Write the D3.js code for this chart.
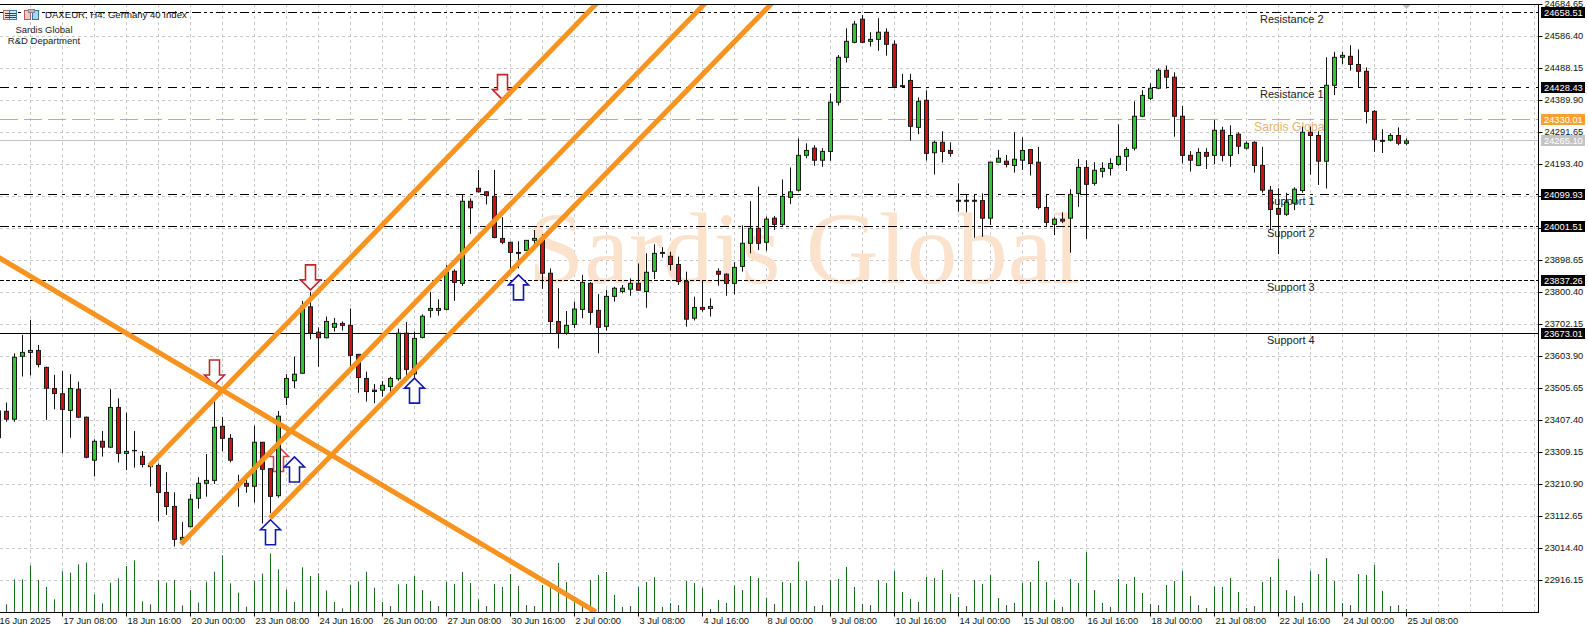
<!DOCTYPE html>
<html>
<head>
<meta charset="utf-8">
<title>DAXEUR H4</title>
<script src="https://cdn.jsdelivr.net/npm/d3@7"></script>
<style>
  html, body { margin: 0; padding: 0; background: #fff; overflow: hidden; }
  svg { display: block; }
  text { font-family: "Liberation Sans", sans-serif; }
  .axis text { font-size: 9.3px; fill: #111; }
  .axis path { display: none; }
  .level-label { font-size: 11px; fill: #222; }
</style>
</head>
<body>
<svg id="chart"></svg>
<script>
const width = 1588;
const height = 632;
const plotRight = 1538;
const plotTop = 4;
const plotBottom = 612;

const barOpen = [
  23354, 23435, 23411, 23604, 23616, 23622, 23570, 23505, 23489, 23438,
  23503, 23417, 23285, 23343, 23325, 23447, 23306, 23315, 23297, 23269,
  23269, 23186, 23143, 23040, 23081, 23168, 23214, 23223, 23389, 23352,
  23213, 23214, 23205, 23340, 23259, 23176, 23478, 23529, 23552, 23756,
  23678, 23661, 23693, 23705, 23699, 23610, 23536, 23500, 23500, 23511,
  23535, 23675, 23550, 23662, 23745, 23745, 23748, 23865, 23828, 24080,
  24120, 24109, 24095, 23966, 23954, 23923, 23929, 23960, 23961, 23859,
  23711, 23675, 23702, 23748, 23828, 23745, 23696, 23788, 23803, 23810,
  23828, 23803, 23865, 23923, 23911, 23886, 23834, 23721, 23754, 23751,
  23865, 23856, 23828, 23880, 23951, 23997, 23954, 24028, 24009, 24092,
  24114, 24221, 24243, 24206, 24233, 24384, 24522, 24568, 24639, 24571,
  24577, 24599, 24562, 24435, 24451, 24307, 24390, 24229, 24261, 24236,
  24083, 24083, 24083, 24082, 24028, 24200, 24203, 24190, 24206, 24239,
  24200, 24061, 24009, 24025, 24028, 24104, 24184, 24135, 24172, 24181,
  24193, 24218, 24243, 24341, 24396, 24427, 24482, 24461, 24341, 24221,
  24190, 24230, 24221, 24298, 24221, 24286, 24243, 24261, 24190, 24114,
  24058, 24040, 24074, 24113, 24292, 24282, 24203, 24436, 24522, 24525,
  24500, 24479, 24356, 24267, 24268, 24282, 24258
];
const barHigh = [
  23440, 23462, 23613, 23670, 23716, 23639, 23572, 23547, 23559, 23549,
  23526, 23419, 23349, 23375, 23503, 23475, 23431, 23375, 23313, 23270,
  23275, 23248, 23186, 23095, 23181, 23233, 23304, 23465, 23417, 23365,
  23240, 23229, 23391, 23341, 23260, 23436, 23549, 23603, 23774, 23802,
  23693, 23726, 23722, 23711, 23751, 23611, 23557, 23519, 23528, 23541,
  23689, 23709, 23680, 23733, 23802, 23779, 23884, 23871, 24101, 24089,
  24176, 24111, 24176, 24031, 23956, 23957, 23961, 23992, 23979, 23874,
  23813, 23743, 23772, 23854, 23832, 23795, 23808, 23818, 23823, 23843,
  23889, 23920, 23948, 23939, 23925, 23910, 23864, 23787, 23838, 23782,
  23874, 23859, 23893, 24006, 24080, 24125, 24033, 24035, 24147, 24184,
  24273, 24258, 24252, 24243, 24411, 24529, 24611, 24634, 24652, 24599,
  24642, 24611, 24574, 24471, 24471, 24399, 24420, 24266, 24295, 24261,
  24135, 24101, 24101, 24104, 24201, 24238, 24222, 24292, 24276, 24240,
  24247, 24101, 24031, 24046, 24117, 24210, 24206, 24200, 24200, 24212,
  24316, 24246, 24387, 24421, 24442, 24488, 24497, 24476, 24373, 24234,
  24243, 24243, 24329, 24309, 24313, 24292, 24264, 24264, 24247, 24127,
  24120, 24106, 24123, 24309, 24309, 24295, 24522, 24539, 24539, 24559,
  24546, 24491, 24360, 24301, 24289, 24307, 24273
];
const barLow = [
  23350, 23403, 23403, 23542, 23545, 23570, 23409, 23441, 23306, 23354,
  23414, 23291, 23235, 23296, 23322, 23278, 23255, 23262, 23263, 23204,
  23098, 23117, 23020, 23030, 23079, 23136, 23173, 23212, 23312, 23278,
  23142, 23185, 23155, 23091, 23122, 23170, 23454, 23506, 23550, 23656,
  23572, 23659, 23680, 23683, 23572, 23492, 23465, 23460, 23480, 23492,
  23529, 23544, 23536, 23659, 23723, 23729, 23746, 23774, 23820, 23980,
  24107, 24070, 23966, 23948, 23869, 23874, 23928, 23941, 23811, 23675,
  23628, 23670, 23691, 23721, 23701, 23613, 23683, 23772, 23797, 23790,
  23805, 23753, 23841, 23907, 23867, 23823, 23695, 23714, 23741, 23726,
  23821, 23790, 23794, 23864, 23920, 23930, 23928, 23992, 24002, 24071,
  24110, 24212, 24189, 24186, 24204, 24374, 24506, 24565, 24565, 24555,
  24542, 24527, 24432, 24429, 24266, 24286, 24205, 24162, 24199, 24217,
  24048, 24046, 23968, 23971, 24007, 24199, 24184, 24168, 24176, 24159,
  24055, 24004, 23976, 24013, 23922, 24063, 23964, 24128, 24153, 24159,
  24189, 24173, 24236, 24338, 24391, 24424, 24426, 24278, 24196, 24171,
  24188, 24179, 24194, 24202, 24186, 24225, 24239, 24168, 24106, 23992,
  23918, 24035, 24053, 24106, 24162, 24130, 24119, 24406, 24501, 24481,
  24430, 24319, 24232, 24228, 24264, 24252, 24252
];
const barClose = [
  23436, 23411, 23601, 23616, 23622, 23579, 23506, 23490, 23441, 23505,
  23417, 23294, 23343, 23325, 23447, 23306, 23312, 23314, 23272, 23265,
  23186, 23143, 23042, 23048, 23165, 23214, 23223, 23386, 23352, 23285,
  23210, 23205, 23340, 23257, 23174, 23420, 23536, 23549, 23758, 23675,
  23661, 23711, 23705, 23699, 23607, 23539, 23496, 23496, 23515, 23536,
  23675, 23564, 23659, 23727, 23751, 23751, 23863, 23831, 24080, 24060,
  24109, 24098, 23969, 23954, 23923, 23920, 23960, 23966, 23859, 23711,
  23675, 23699, 23749, 23831, 23739, 23693, 23788, 23813, 23813, 23828,
  23807, 23862, 23920, 23920, 23886, 23834, 23718, 23754, 23748, 23757,
  23856, 23828, 23877, 23951, 23997, 23951, 24025, 24009, 24095, 24109,
  24221, 24236, 24206, 24233, 24384, 24522, 24571, 24624, 24568, 24577,
  24599, 24562, 24433, 24432, 24310, 24387, 24227, 24261, 24233, 24227,
  24080, 24080, 24080, 24028, 24200, 24212, 24193, 24209, 24236, 24196,
  24061, 24015, 24025, 24019, 24101, 24184, 24132, 24175, 24181, 24196,
  24218, 24239, 24341, 24405, 24427, 24482, 24461, 24341, 24221, 24206,
  24230, 24218, 24298, 24221, 24282, 24249, 24258, 24190, 24114, 24055,
  24040, 24077, 24117, 24292, 24282, 24203, 24436, 24522, 24528, 24500,
  24479, 24356, 24270, 24264, 24282, 24258, 24265
];
const barVolume = [
  60, 23, 98, 98, 140, 96, 75, 38, 122, 118,
  143, 148, 53, 26, 88, 101, 138, 155, 32, 23,
  96, 88, 96, 20, 66, 28, 91, 121, 170, 86,
  58, 16, 93, 115, 175, 128, 68, 30, 134, 108,
  116, 65, 30, 11, 82, 92, 121, 73, 30, 18,
  83, 84, 108, 66, 33, 18, 91, 84, 120, 87,
  38, 18, 84, 75, 114, 78, 21, 18, 81, 90,
  147, 90, 30, 20, 96, 111, 120, 51, 15, 18,
  76, 90, 104, 15, 27, 21, 93, 87, 72, 9,
  36, 27, 80, 66, 108, 102, 43, 24, 90, 87,
  151, 93, 18, 21, 96, 99, 135, 75, 24, 21,
  96, 87, 123, 60, 39, 30, 105, 102, 126, 54,
  45, 18, 96, 84, 111, 42, 21, 27, 87, 90,
  153, 90, 36, 15, 99, 87, 180, 66, 27, 15,
  99, 84, 105, 57, 24, 21, 81, 93, 123, 48,
  21, 12, 77, 75, 102, 60, 12, 18, 90, 105,
  159, 66, 48, 27, 123, 114, 162, 93, 27, 21,
  114, 111, 141, 63, 18, 21, 9
];

const timeLabels = [
  "16 Jun 2025", "17 Jun 08:00", "18 Jun 16:00", "20 Jun 00:00", "23 Jun 08:00", "24 Jun 16:00",
  "26 Jun 00:00", "27 Jun 08:00", "30 Jun 16:00", "2 Jul 00:00", "3 Jul 08:00", "4 Jul 16:00",
  "8 Jul 00:00", "9 Jul 08:00", "10 Jul 16:00", "14 Jul 00:00", "15 Jul 08:00", "16 Jul 16:00",
  "18 Jul 00:00", "21 Jul 08:00", "22 Jul 16:00", "24 Jul 00:00", "25 Jul 08:00"
];
const priceTicks = [
  24684.65, 24586.40, 24488.15, 24389.90, 24291.65, 24193.40, 24095.15, 23996.90, 23898.65,
  23800.40, 23702.15, 23603.90, 23505.65, 23407.40, 23309.15, 23210.90, 23112.65, 23014.40, 22916.15
];
// these two sit under the level badges in the original
const hiddenTickLabels = [24095.15, 23996.90];

const levelNames = ["Resistance 2", "Resistance 1", "Sardis Global", "Support 1", "Support 2", "Support 3", "Support 4"];
const levelPrices = [24658.51, 24428.43, 24330.01, 24099.93, 24001.51, 23837.26, 23673.01];
const lastPrice = 24265.10;

// trend lines as [bar, price] pairs
const trendUpper = [[18.87, 23268], [75.2, 24698]];
const trendMiddle = [[22.83, 23027], [88.75, 24698]];
const trendLower = [[33.96, 23107], [97.1, 24698]];
const trendDown = [[-0.4, 23914], [74.7, 22819]];

const downArrowBars = [27, 39, 63];
const downArrowPrices = [23516, 23808, 24392];
const redUpArrowBars = [35];
const redUpArrowPrices = [23327];
const blueUpArrowBars = [34, 37, 52, 65];
const blueUpArrowPrices = [23102, 23295, 23537, 23854];

const bars = barOpen.map((o, i) => ({
  i, open: o, high: barHigh[i], low: barLow[i], close: barClose[i], volume: barVolume[i]
}));

const xScale = d3.scaleLinear().domain([0, 176]).range([-1.67, 1406.33]);
const yScale = d3.scaleLinear().domain([24684.65, 22916.15]).range([4.33, 580.33]);
const volScale = d3.scaleLinear().domain([0, 180]).range([plotBottom, plotBottom - 60]);
const snap = v => Math.floor(v) + 0.5;

const svg = d3.select("#chart").attr("width", width).attr("height", height);

svg.append("defs").append("clipPath").attr("id", "plot")
  .append("rect").attr("x", 0).attr("y", plotTop).attr("width", plotRight).attr("height", plotBottom - plotTop);

const plot = svg.append("g").attr("clip-path", "url(#plot)");

// grid
const gridBars = d3.range(0, 193, 4);
plot.append("g").selectAll("line").data(gridBars).enter().append("line")
  .attr("x1", d => snap(xScale(d))).attr("x2", d => snap(xScale(d)))
  .attr("y1", plotTop).attr("y2", plotBottom)
  .attr("stroke", "#c8c8c8").attr("stroke-dasharray", "3,3");
plot.append("g").selectAll("line").data(priceTicks).enter().append("line")
  .attr("x1", 0).attr("x2", plotRight)
  .attr("y1", d => snap(yScale(d))).attr("y2", d => snap(yScale(d)))
  .attr("stroke", "#c8c8c8").attr("stroke-dasharray", "3,3");

// watermark
plot.append("text")
  .attr("x", 528).attr("y", 283)
  .style("font-family", '"Liberation Serif", serif')
  .style("font-size", "101px")
  .attr("fill", "#fbe2cd")
  .text("Sardis Global");

// levels
const levelDash = ["9,3,3,3,3,3", "9,5,3,7", "18,6", "9,5,3,7", "9,3,3,3,3,3", "4,2", null];
const levelColor = ["#000", "#000", "#e2a74e", "#000", "#000", "#000", "#000"];
plot.append("line")
  .attr("x1", 0).attr("x2", plotRight)
  .attr("y1", snap(yScale(lastPrice))).attr("y2", snap(yScale(lastPrice)))
  .attr("stroke", "#c0c0c0");
plot.append("g").selectAll("line").data(levelPrices).enter().append("line")
  .attr("x1", 0).attr("x2", plotRight)
  .attr("y1", d => snap(yScale(d))).attr("y2", d => snap(yScale(d)))
  .attr("stroke", (d, i) => levelColor[i])
  .attr("stroke-dasharray", (d, i) => levelDash[i]);

// level names, offset below each line
const labelX = [1260, 1260, 1254, 1267, 1267, 1267, 1267];
plot.append("g").selectAll("text").data(levelNames).enter().append("text")
  .attr("class", "level-label")
  .attr("x", (d, i) => labelX[i])
  .attr("y", (d, i) => yScale(levelPrices[i]) + 6.4)
  .attr("dy", "0.35em")
  .style("font-size", d => (d === "Sardis Global" ? "12.2px" : null))
  .style("fill", d => (d === "Sardis Global" ? "#e9b26f" : null))
  .text(d => d);

// block arrows, tip at the given bar and price
const arrowDown = "M0,0 L-10,-10 L-5,-10 L-5,-25 L5,-25 L5,-10 L10,-10 Z";
const arrowUp = "M0,0 L-10,10 L-5,10 L-5,25 L5,25 L5,10 L10,10 Z";
function drawArrows(barsIn, prices, path, color) {
  plot.append("g").selectAll("path").data(barsIn).enter().append("path")
    .attr("d", path)
    .attr("transform", (d, i) => `translate(${snap(xScale(d))},${yScale(prices[i])})`)
    .attr("fill", "#fff")
    .attr("stroke", color)
    .attr("stroke-width", 1.6);
}
drawArrows(downArrowBars, downArrowPrices, arrowDown, "#c8202f");
drawArrows(redUpArrowBars, redUpArrowPrices, arrowUp, "#d8404a");
drawArrows(blueUpArrowBars, blueUpArrowPrices, arrowUp, "#1616b0");

// volumes
plot.append("g").selectAll("line").data(bars).enter().append("line")
  .attr("x1", d => snap(xScale(d.i))).attr("x2", d => snap(xScale(d.i)))
  .attr("y1", plotBottom).attr("y2", d => volScale(d.volume))
  .attr("stroke", "#1d6a1d");

// candles
const candles = plot.append("g").selectAll("g").data(bars).enter().append("g");
candles.append("line")
  .attr("x1", d => snap(xScale(d.i))).attr("x2", d => snap(xScale(d.i)))
  .attr("y1", d => yScale(d.high)).attr("y2", d => yScale(d.low))
  .attr("stroke", "#111");
candles.append("rect")
  .attr("x", d => snap(xScale(d.i)) - 2)
  .attr("width", 4)
  .attr("y", d => yScale(Math.max(d.open, d.close)))
  .attr("height", d => Math.abs(yScale(d.open) - yScale(d.close)))
  .attr("fill", d => (d.close >= d.open ? "#27cc27" : "#c8121a"))
  .attr("stroke", "#1a1a1a");

// trend lines on top of everything
const trendLine = d3.line().x(d => xScale(d[0])).y(d => yScale(d[1]));
plot.append("g").selectAll("path").data([trendUpper, trendMiddle, trendLower, trendDown]).enter().append("path")
  .attr("d", trendLine)
  .attr("fill", "none")
  .attr("stroke", "#f7931e")
  .attr("stroke-width", 5);

// frame
svg.append("line").attr("x1", 0).attr("x2", plotRight).attr("y1", plotTop + 0.5).attr("y2", plotTop + 0.5).attr("stroke", "#000");
svg.append("line").attr("x1", 0).attr("x2", plotRight).attr("y1", plotBottom + 0.5).attr("y2", plotBottom + 0.5).attr("stroke", "#000");
svg.append("line").attr("x1", plotRight + 0.5).attr("x2", plotRight + 0.5).attr("y1", plotTop).attr("y2", plotBottom + 1).attr("stroke", "#000");

// time axis
const xAxis = d3.axisBottom(xScale)
  .tickValues(timeLabels.map((d, i) => i * 8))
  .tickFormat((d, i) => timeLabels[i])
  .tickSizeOuter(0)
  .tickSize(4)
  .tickPadding(1);
const xG = svg.append("g").attr("class", "axis").attr("transform", `translate(0,${plotBottom + 0.5})`).call(xAxis);
xG.selectAll(".tick").attr("transform", d => `translate(${snap(xScale(d))},0)`);
xG.selectAll(".tick text").attr("text-anchor", "start").attr("x", 1);
xG.selectAll(".tick line").attr("stroke", "#000");

// price axis
const yAxis = d3.axisRight(yScale)
  .tickValues(priceTicks)
  .tickFormat(d => (hiddenTickLabels.includes(d) ? "" : d.toFixed(2)))
  .tickSizeOuter(0)
  .tickSize(4)
  .tickPadding(2);
const yG = svg.append("g").attr("class", "axis").attr("transform", `translate(${plotRight + 0.5},0)`).call(yAxis);
yG.selectAll(".tick").attr("transform", d => `translate(0,${snap(yScale(d))})`);
yG.selectAll(".tick line").attr("stroke", "#000");

// price badges
const badges = levelPrices.map((p, i) => ({
  price: p,
  fill: levelNames[i] === "Sardis Global" ? "#f8a030" : "#000"
})).concat([{ price: lastPrice, fill: "#c4c4c4" }]);
const badge = svg.append("g").selectAll("g").data(badges).enter().append("g")
  .attr("transform", d => `translate(1541,${snap(yScale(d.price))})`);
badge.append("rect").attr("x", 0).attr("y", -5.5).attr("width", 44).attr("height", 11).attr("fill", d => d.fill);
badge.append("text").attr("x", 3).attr("dy", "0.35em").style("font-size", "9.3px").attr("fill", "#fff")
  .text(d => d.price.toFixed(2));

// marker above the last bar
svg.append("path")
  .attr("d", "M-4,0 L4,0 L0,4 Z")
  .attr("transform", `translate(${snap(xScale(176))},5)`)
  .attr("fill", "#bdbdbd");

// header: the two toolbar icons and the captions
const icons = svg.append("g");
icons.append("rect").attr("x", 3.5).attr("y", 10.5).attr("width", 6).attr("height", 9).attr("fill", "#f6d4cc").attr("stroke", "#c07060");
icons.append("rect").attr("x", 9.5).attr("y", 10.5).attr("width", 7).attr("height", 9).attr("fill", "#cfe6f5").attr("stroke", "#3a7fb0");
icons.append("g").selectAll("line").data([13, 15, 17]).enter().append("line")
  .attr("x1", 5).attr("x2", 16).attr("y1", d => d + 0.5).attr("y2", d => d + 0.5).attr("stroke", "#444");
icons.append("rect").attr("x", 24.5).attr("y", 10.5).attr("width", 6).attr("height", 9).attr("fill", "#f6c8c8").attr("stroke", "#b06060");
icons.append("rect").attr("x", 32.5).attr("y", 10.5).attr("width", 6).attr("height", 9).attr("fill", "#a9d6f0").attr("stroke", "#2f78a8");
icons.append("rect").attr("x", 28.5).attr("y", 9.5).attr("width", 6).attr("height", 3).attr("fill", "#bbb").attr("stroke", "#888");

svg.append("text").attr("x", 45).attr("y", 15).attr("dy", "0.35em").style("font-size", "9.6px").attr("fill", "#111")
  .text("DAXEUR, H4: Germany 40 Index");
svg.append("text").attr("x", 44).attr("y", 30).attr("dy", "0.35em").attr("text-anchor", "middle").style("font-size", "9.5px").attr("fill", "#222")
  .text("Sardis Global");
svg.append("text").attr("x", 44).attr("y", 41).attr("dy", "0.35em").attr("text-anchor", "middle").style("font-size", "9.5px").attr("fill", "#222")
  .text("R&D Department");
</script>
</body>
</html>
